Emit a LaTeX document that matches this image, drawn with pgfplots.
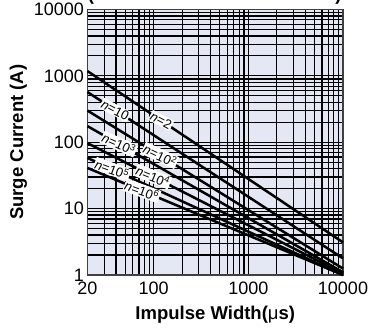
\documentclass[border=0pt]{standalone}
\usepackage{fontspec}
\setmainfont{Liberation Sans}
\usepackage{pgfplots}
\pgfplotsset{compat=1.18}
\usetikzlibrary{calc}
\definecolor{plotbg}{RGB}{228,232,244}
\tikzset{nlab/.style={fill=white, inner sep=1pt, font=\fontsize{13}{13}\selectfont}}

\begin{document}
\begin{tikzpicture}
\begin{axis}[
  name=ax,
  xmode=log, ymode=log,
  scale only axis, width=255.5pt, height=265.5pt,
  xmin=20, xmax=10000, ymin=1, ymax=10000,
  xtick={20,100,1000,10000}, xticklabels={20,100,1000,10000},
  ytick={1,10,100,1000,10000}, yticklabels={1,10,100,1000,10000},
  minor xtick={30,40,50,60,70,80,90,200,300,400,500,600,700,800,900,2000,3000,4000,5000,6000,7000,8000,9000},
  minor ytick={2,3,4,5,6,7,8,9,20,30,40,50,60,70,80,90,200,300,400,500,600,700,800,900,2000,3000,4000,5000,6000,7000,8000,9000},
  grid=both,
  major grid style={black, line width=1.2pt},
  minor grid style={black, line width=1.2pt},
  major tick length=0pt, minor tick length=0pt,
  axis line style={black!75, line width=1.8pt},
  axis background/.style={fill=plotbg},
  tick label style={font=\fontsize{18}{20}\selectfont},
  xticklabel style={yshift=-3pt},
  label style={font=\bfseries\fontsize{18.5}{20}\selectfont},
  xlabel style={yshift=-5pt},
  xlabel={Impulse Width({\mdseries μ}s)},
  ylabel={Surge Current (A)},
  /pgf/number format/assume math mode=true,
  clip=false,
]
% surge current rating lines, one per number of pulses n
\addplot[black, line width=2.5pt] coordinates {(20,1180) (10000,3.1)}
  node[pos=0.288, rotate=-28, nlab] {\textit{n}=2};
\addplot[black, line width=2.5pt] coordinates {(20,570) (10000,1.78)}
  node[pos=0.108, rotate=-28, nlab] {\textit{n}=10};
\addplot[black, line width=2.5pt] coordinates {(20,300) (10000,1.25)}
  node[pos=0.284, rotate=-25, nlab] {\textit{n}=10\textsuperscript{2}};
\addplot[black, line width=2.5pt] coordinates {(20,175) (10000,1.1)}
  node[pos=0.123, rotate=-24, nlab] {\textit{n}=10\textsuperscript{3}};
\addplot[black, line width=2.5pt] coordinates {(20,97) (10000,1.05)}
  node[pos=0.256, rotate=-22, nlab] {\textit{n}=10\textsuperscript{4}};
\addplot[black, line width=2.5pt] coordinates {(20,58) (10000,1.0)}
  node[pos=0.096, rotate=-20, nlab] {\textit{n}=10\textsuperscript{5}};
\addplot[black, line width=2.5pt] coordinates {(20,41) (10000,1.0)}
  node[pos=0.213, rotate=-20, nlab] {\textit{n}=10\textsuperscript{6}};
% title brackets, mostly above the page edge
\node[anchor=base, font=\bfseries\fontsize{18.5}{20}\selectfont] at (rel axis cs:0.014,1.032) {(};
\node[anchor=base, font=\bfseries\fontsize{18.5}{20}\selectfont] at (rel axis cs:0.982,1.032) {)};
\end{axis}
\pgfresetboundingbox
\path[use as bounding box] ($(ax.south west)+(-87.5pt,-55pt)$) rectangle ($(ax.north east)+(29pt,9.5pt)$);
\end{tikzpicture}
\end{document}
